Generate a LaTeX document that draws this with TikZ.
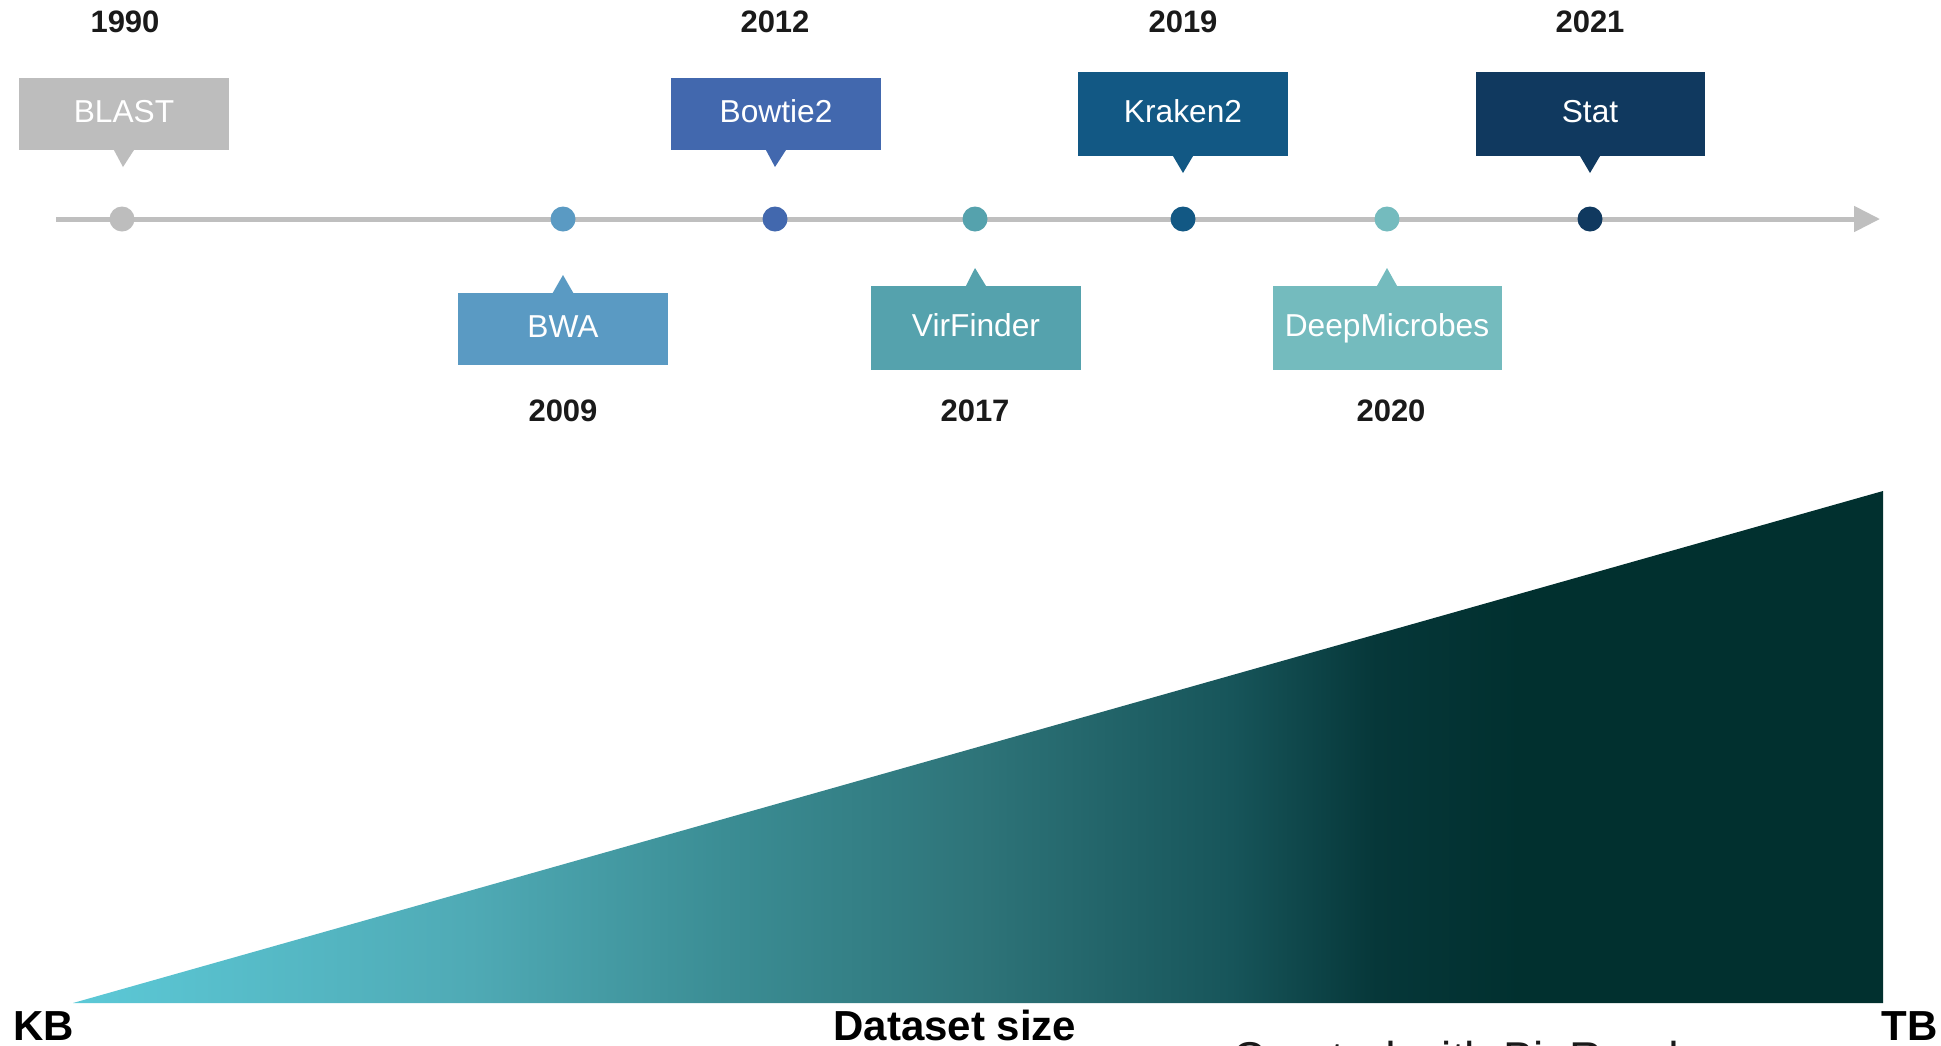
\documentclass[tikz,border=0pt]{standalone}
\usepackage{fontspec}
\setmainfont{Liberation Sans}
\usetikzlibrary{arrows.meta}

% palette
\definecolor{tlgrey}{HTML}{BFBFBF}
\definecolor{blastc}{HTML}{BDBDBD}
\definecolor{bwac}{HTML}{5A9AC3}
\definecolor{bowtiec}{HTML}{4268AE}
\definecolor{virc}{HTML}{55A2AD}
\definecolor{krakenc}{HTML}{125884}
\definecolor{deepc}{HTML}{74BBBE}
\definecolor{statc}{HTML}{10395F}
\definecolor{yearink}{HTML}{1A1A1A}
\definecolor{dsA}{HTML}{5CC9D7}
\definecolor{dsB}{HTML}{4FAAB5}
\definecolor{dsC}{HTML}{3B8D94}
\definecolor{dsD}{HTML}{2E7479}
\definecolor{dsE}{HTML}{17555A}
\definecolor{dsF}{HTML}{063739}
\definecolor{dsG}{HTML}{01302F}

% left-to-right colour ramp of the dataset-size wedge
\pgfdeclarehorizontalshading{datasize}{100bp}{%
  color(0bp)=(dsA); color(25bp)=(dsA); color(36bp)=(dsB);
  color(43bp)=(dsC); color(50bp)=(dsD); color(57bp)=(dsE);
  color(61bp)=(dsF); color(65bp)=(dsG); color(100bp)=(dsG)}

\tikzset{
  yearlbl/.style={font=\fontsize{31}{36}\selectfont\bfseries, text=yearink,
    inner sep=0pt, text height=22pt, text depth=0pt},
  toolbox/.style={fill=#1, text=white, font=\fontsize{31.7}{36}\selectfont,
    inner sep=0pt, minimum width=210pt, text height=22.7pt, text depth=5pt},
  shortbox/.style={minimum height=72pt},
  tallbox/.style={minimum height=84pt},
  widebox/.style={minimum width=229pt},
  tldot/.style={circle, fill=#1, inner sep=0pt, minimum size=25pt},
  axislbl/.style={font=\fontsize{42}{48}\selectfont\bfseries, text=black, inner sep=0pt},
  creditlbl/.style={font=\fontsize{46}{52}\selectfont, text=yearink, inner sep=0pt}
}

\begin{document}
\begin{tikzpicture}[x=1pt,y=-1pt]
\useasboundingbox (0,0) rectangle (1941,1045);
\fill[white] (0,0) rectangle (1941,1045);
\clip (0,0) rectangle (1941,1045);

% ---------- timeline axis ----------
\coordinate (tl-start) at (56,219);
\coordinate (tl-end) at (1880,219);
\draw[line width=5pt, tlgrey, -{Triangle[length=26pt,width=25pt]}] (tl-start) -- (tl-end);

% ---------- dots on the axis ----------
\node[tldot=blastc]  (d-blast)  at (122,219)  {};
\node[tldot=bwac]    (d-bwa)    at (563,219)  {};
\node[tldot=bowtiec] (d-bowtie) at (775,219)  {};
\node[tldot=virc]    (d-vir)    at (975,219)  {};
\node[tldot=krakenc] (d-kraken) at (1183,219) {};
\node[tldot=deepc]   (d-deep)   at (1387,219) {};
\node[tldot=statc]   (d-stat)   at (1590,219) {};

% ---------- callouts above the axis ----------
\node[toolbox=blastc, shortbox]           (b-blast)  at (124,114) {BLAST};
\node[toolbox=bowtiec, shortbox]          (b-bowtie) at (776,114) {Bowtie2};
\node[toolbox=krakenc, tallbox]           (b-kraken) at (1183,114) {Kraken2};
\node[toolbox=statc, tallbox, widebox]    (b-stat)   at (1590,114) {Stat};

\coordinate (p-blast)  at (123,167);
\coordinate (p-bowtie) at (775,167);
\coordinate (p-kraken) at (1183,173);
\coordinate (p-stat)   at (1590,173);

\fill[blastc]  ([xshift=-10.5pt,yshift=1pt]b-blast.south)  -- (p-blast)  -- ([xshift=10.5pt,yshift=1pt]b-blast.south)  -- cycle;
\fill[bowtiec] ([xshift=-10.5pt,yshift=1pt]b-bowtie.south) -- (p-bowtie) -- ([xshift=10.5pt,yshift=1pt]b-bowtie.south) -- cycle;
\fill[krakenc] ([xshift=-10.5pt,yshift=1pt]b-kraken.south) -- (p-kraken) -- ([xshift=10.5pt,yshift=1pt]b-kraken.south) -- cycle;
\fill[statc]   ([xshift=-10.5pt,yshift=1pt]b-stat.south)   -- (p-stat)   -- ([xshift=10.5pt,yshift=1pt]b-stat.south)   -- cycle;

% ---------- callouts below the axis ----------
\node[toolbox=bwac, shortbox]          (b-bwa)  at (563,328.5) {BWA};
\node[toolbox=virc, tallbox]           (b-vir)  at (976,328)   {VirFinder};
\node[toolbox=deepc, tallbox, widebox] (b-deep) at (1387,328)  {DeepMicrobes};

\coordinate (p-bwa)  at (563,275);
\coordinate (p-vir)  at (975,268);
\coordinate (p-deep) at (1387,268);

\fill[bwac]  ([xshift=-10.5pt,yshift=-1pt]b-bwa.north)  -- (p-bwa)  -- ([xshift=10.5pt,yshift=-1pt]b-bwa.north)  -- cycle;
\fill[virc]  ([xshift=-10.5pt,yshift=-1pt]b-vir.north)  -- (p-vir)  -- ([xshift=10.5pt,yshift=-1pt]b-vir.north)  -- cycle;
\fill[deepc] ([xshift=-10.5pt,yshift=-1pt]b-deep.north) -- (p-deep) -- ([xshift=10.5pt,yshift=-1pt]b-deep.north) -- cycle;

% ---------- years ----------
\node[yearlbl] (y-1990) at (125,21.5)  {1990};
\node[yearlbl] (y-2012) at (775,21.5)  {2012};
\node[yearlbl] (y-2019) at (1183,21.5) {2019};
\node[yearlbl] (y-2021) at (1590,21.5) {2021};
\node[yearlbl] (y-2009) at (563,410)   {2009};
\node[yearlbl] (y-2017) at (975,410)   {2017};
\node[yearlbl] (y-2020) at (1391,410)  {2020};

% ---------- dataset-size wedge ----------
\coordinate (w-left)  at (73,1003);
\coordinate (w-right) at (1883,1003);
\coordinate (w-top)   at (1883,491);
\shade[shading=datasize] (w-left) -- (w-right) -- (w-top) -- cycle;

\node[axislbl, anchor=base west] (kb)   at (13,1040)   {KB};
\node[axislbl, anchor=base]      (dsz)  at (955,1040)  {Dataset size};
\node[axislbl, anchor=base east] (tb)   at (1938,1040) {TB};

\node[creditlbl, anchor=base west] (credit) at (1232,1074) {Created with BioRender.com};
\end{tikzpicture}
\end{document}
